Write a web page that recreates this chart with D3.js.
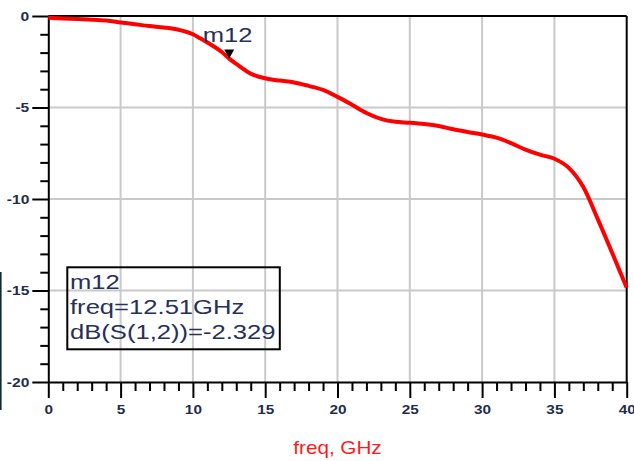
<!DOCTYPE html>
<html><head><meta charset="utf-8">
<script src="https://cdn.jsdelivr.net/npm/d3@7"></script>
<style>
html,body{margin:0;padding:0;background:#fff;}
svg{display:block;}
.tl text{font-family:"Liberation Sans",Arial,sans-serif;font-weight:bold;font-size:13px;fill:#1f2d4d;transform-box:fill-box;}
.yax .tl text, .yax text{transform-origin:right center;transform:scaleX(1.2);}
.xax text{transform-origin:center;transform:scaleX(1.18);}
.mk{font-family:"Liberation Sans",Arial,sans-serif;font-size:20px;fill:#26305a;transform-box:fill-box;transform-origin:left center;transform:scaleX(1.28);}
.xt{font-family:"Liberation Sans",Arial,sans-serif;font-size:17.5px;fill:#ff1a1a;transform-box:fill-box;transform-origin:center;transform:scaleX(1.18);}
</style>
</head><body>
<svg id="c" width="634" height="461"></svg>
<script>
const freq = [0,1,2,3,4,5,6,7,8,9,10,10.5,11,12,12.51,13,14,15,16,17,18,19,20,21,22,23,24,25,26,27,28,29,30,31,32,33,34,35,36,37,38,39,40];
const s12dB = [-0.1,-0.13,-0.17,-0.2,-0.25,-0.35,-0.45,-0.55,-0.63,-0.75,-1.0,-1.22,-1.45,-1.97,-2.329,-2.62,-3.15,-3.4,-3.53,-3.63,-3.82,-4.04,-4.42,-4.85,-5.3,-5.62,-5.78,-5.83,-5.9,-6.01,-6.19,-6.34,-6.48,-6.65,-6.95,-7.3,-7.58,-7.8,-8.3,-9.35,-11.1,-12.95,-14.85];
const xMajor = [0,5,10,15,20,25,30,35,40];
const yMajor = [0,-5,-10,-15,-20];
const markerName = "m12";
const markerFreq = 12.51;
const markerVal = -2.329;
const markerLines = ["m12","freq=12.51GHz","dB(S(1,2))=-2.329"];
const xTitle = "freq, GHz";

const svg = d3.select("#c");
const x = d3.scaleLinear().domain([0,40]).range([48.3,626.7]);
const y = d3.scaleLinear().domain([0,-20]).range([16,382]);

// stray dark edge line
svg.append("line").attr("x1",0.8).attr("x2",0.8).attr("y1",272).attr("y2",410)
  .attr("stroke","#0d2b33").attr("stroke-width",1.6);

// grid
const g = svg.append("g");
g.selectAll(".vg").data(xMajor.slice(1,-1)).join("line")
  .attr("x1",d=>x(d)).attr("x2",d=>x(d)).attr("y1",y(0)).attr("y2",y(-20))
  .attr("stroke","#c9c9c9").attr("stroke-width",2);
g.selectAll(".hg").data(yMajor.slice(1,-1)).join("line")
  .attr("x1",x(0)).attr("x2",x(40)).attr("y1",d=>y(d)).attr("y2",d=>y(d))
  .attr("stroke","#c9c9c9").attr("stroke-width",2);

// frame top/right
svg.append("line").attr("x1",x(0)).attr("x2",x(40)).attr("y1",y(0)).attr("y2",y(0)).attr("stroke","#000").attr("stroke-width",2);
svg.append("line").attr("x1",x(40)).attr("x2",x(40)).attr("y1",y(0)).attr("y2",y(-20)).attr("stroke","#000").attr("stroke-width",2);

// minor ticks
const xMinor = d3.range(0,41).filter(v=>v%5!==0);
const yMinor = d3.range(0,-21,-1).filter(v=>v%5!==0);
svg.append("g").attr("transform",`translate(0,${y(-20)})`)
  .call(d3.axisBottom(x).tickValues(xMinor).tickSize(9).tickSizeOuter(0).tickFormat(""))
  .call(s=>{s.select(".domain").remove(); s.selectAll("line").attr("stroke","#000").attr("stroke-width",2);});
svg.append("g").attr("transform",`translate(${x(0)},0)`)
  .call(d3.axisLeft(y).tickValues(yMinor).tickSize(8).tickSizeOuter(0).tickFormat(""))
  .call(s=>{s.select(".domain").remove(); s.selectAll("line").attr("stroke","#000").attr("stroke-width",2);});

// major axes
svg.append("g").attr("class","xax tl").attr("transform",`translate(0,${y(-20)})`)
  .call(d3.axisBottom(x).tickValues(xMajor).tickSize(16).tickSizeOuter(0).tickPadding(7).tickFormat(d3.format("d")))
  .call(s=>{s.select(".domain").attr("stroke","#000").attr("stroke-width",2); s.selectAll("line").attr("stroke","#000").attr("stroke-width",2);});
svg.append("g").attr("class","yax tl").attr("transform",`translate(${x(0)},0)`)
  .call(d3.axisLeft(y).tickValues(yMajor).tickSize(16).tickSizeOuter(0).tickPadding(3).tickFormat(d=>d3.format("d")(d).replace("−","-")))
  .call(s=>{s.select(".domain").attr("stroke","#000").attr("stroke-width",2); s.selectAll("line").attr("stroke","#000").attr("stroke-width",2);});

// curve
const data = freq.map((f,i)=>({f,v:s12dB[i]}));
svg.append("path").datum(data)
  .attr("d",d3.line().x(d=>x(d.f)).y(d=>y(d.v)).curve(d3.curveMonotoneX))
  .attr("fill","none").attr("stroke","#ff0000").attr("stroke-width",4).attr("stroke-linejoin","round");

// marker triangle
const mx = x(markerFreq), my = y(markerVal);
svg.append("path").attr("d",`M${mx-5},${my-9}L${mx+5},${my-9}L${mx},${my}Z`).attr("fill","#000");
svg.append("text").attr("class","mk").attr("x",mx-26.5).attr("y",my-17).text(markerName);

// marker readout box (transparent)
svg.append("rect").attr("x",67.3).attr("y",267.3).attr("width",212.5).attr("height",82)
  .attr("fill","none").attr("stroke","#000").attr("stroke-width",2);
svg.selectAll(".ml").data(markerLines).join("text").attr("class","mk")
  .attr("x",70).attr("y",(d,i)=>288.7+i*25.4).text(d=>d);

// x title
svg.append("text").attr("class","xt").attr("x",(x(0)+x(40))/2).attr("y",454)
  .attr("text-anchor","middle").text(xTitle);
</script>
</body></html>
